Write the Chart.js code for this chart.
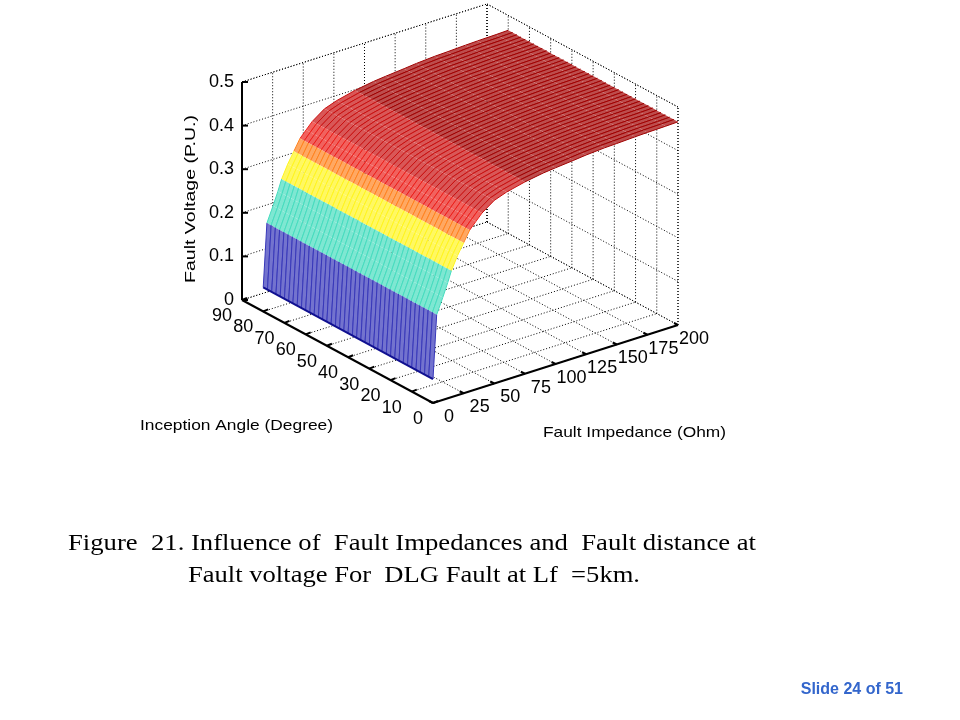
<!DOCTYPE html>
<html><head><meta charset="utf-8">
<script src="https://cdn.jsdelivr.net/npm/chart.js@4"></script>
<style>body{margin:0;background:#fff}canvas{display:block}</style>
</head><body><canvas id="c" width="960" height="720"></canvas>
<script>
// Data
const impedance = [0,3,8,12,15,20,25,30,35,40,50,60,75,90,100,115,125,140,150,165,175,190,200];
const voltage   = [0.055,0.2,0.235,0.265,0.29,0.32,0.345,0.37,0.385,0.40,0.42,0.43,0.44,0.447,0.45,0.454,0.457,0.46,0.461,0.463,0.464,0.465,0.466];
const angles = [];
for (let a = 0; a <= 80; a += 2) angles.push(a);
const zTicks = [0,25,50,75,100,125,150,175,200];
const aTicks = [0,10,20,30,40,50,60,70,80,90];
const vTicks = [0,0.1,0.2,0.3,0.4,0.5];

// projection (layout)
const O = [433, 403];
function P(z, a, v) {
  return [O[0] + z/200*245 - a/90*191, O[1] - z/200*78 - a/90*103 - v/0.5*218];
}
function band(v) {
  if (v < 0.205) return [55,55,185];
  if (v < 0.29) return [70,220,190];
  if (v < 0.335) return [255,245,30];
  if (v < 0.37) return [255,130,30];
  if (v < 0.40) return [235,30,25];
  if (v < 0.44) return [200,15,15];
  return [160,0,0];
}
function scaledText(ctx, txt, x, y, w) {
  const m = ctx.measureText(txt).width;
  ctx.save(); ctx.translate(x, y); ctx.scale(w/m, 1); ctx.fillText(txt, 0, 0); ctx.restore();
}
const plugin = {
  id: 'surf',
  afterDraw(chart) {
    const ctx = chart.ctx, sx = chart.scales.x, sy = chart.scales.y;
    const T = (z,a,v) => { const p = P(z,a,v); return [sx.getPixelForValue(p[0]), sy.getPixelForValue(p[1])]; };
    const line = (p, q) => { ctx.beginPath(); ctx.moveTo(p[0],p[1]); ctx.lineTo(q[0],q[1]); ctx.stroke(); };
    ctx.save();
    ctx.strokeStyle = '#000'; ctx.lineWidth = 1; ctx.setLineDash([1,2]);
    zTicks.forEach(z => line(T(z,0,0), T(z,90,0)));
    aTicks.forEach(a => line(T(0,a,0), T(200,a,0)));
    zTicks.forEach(z => line(T(z,90,0), T(z,90,0.5)));
    vTicks.forEach(v => line(T(0,90,v), T(200,90,v)));
    aTicks.forEach(a => line(T(200,a,0), T(200,a,0.5)));
    vTicks.forEach(v => line(T(200,0,v), T(200,90,v)));
    line(T(0,90,0.5), T(200,90,0.5));
    line(T(200,90,0), T(200,90,0.5));
    line(T(200,0,0.5), T(200,90,0.5));
    line(T(200,0,0), T(200,0,0.5));
    ctx.setLineDash([]);
    ctx.lineWidth = 2;
    line(T(0,90,0), T(0,90,0.5));
    line(T(0,0,0), T(200,0,0));
    line(T(0,0,0), T(0,90,0));
    vTicks.forEach(v => { const p = T(0,90,v); line(p, [p[0]+6, p[1]]); });
    aTicks.forEach(a => { const p = T(0,a,0); line(p, [p[0]+5, p[1]-2]); });
    zTicks.forEach(z => { const p = T(z,0,0); line(p, [p[0]-4, p[1]-2]); });
    // surface
    ctx.lineWidth = 1;
    for (let i = angles.length-2; i >= 0; i--) {
      for (let j = impedance.length-2; j >= 0; j--) {
        const a0 = angles[i], a1 = angles[i+1], z0 = impedance[j], z1 = impedance[j+1];
        const v0 = voltage[j], v1 = voltage[j+1];
        const pts = [T(z0,a0,v0), T(z1,a0,v1), T(z1,a1,v1), T(z0,a1,v0)];
        const c = band((v0+v1)/2);
        const lc = c.map(x => Math.round(x + (255-x)*0.3));
        ctx.fillStyle = `rgb(${lc[0]},${lc[1]},${lc[2]})`;
        ctx.beginPath(); pts.forEach((p,k)=>k?ctx.lineTo(p[0],p[1]):ctx.moveTo(p[0],p[1])); ctx.closePath();
        ctx.fill();
        ctx.strokeStyle = `rgb(${c[0]},${c[1]},${c[2]})`;
        line(pts[0], pts[1]); line(pts[3], pts[2]);
      }
    }
    ctx.strokeStyle = '#101090'; ctx.lineWidth = 2;
    line(T(0,0,voltage[0]), T(0,80,voltage[0]));
    // tick labels
    ctx.fillStyle = '#000'; ctx.font = '18px "Liberation Sans", Arial';
    ctx.textAlign = 'right'; ctx.textBaseline = 'middle';
    vTicks.forEach(v => { const p = T(0,90,v); ctx.fillText(String(v), p[0]-8, p[1]); });
    aTicks.forEach(a => { const p = T(0,a,0); ctx.fillText(String(a), p[0]-10, p[1]+16); });
    ctx.textAlign = 'center';
    zTicks.forEach(z => { const p = T(z,0,0); ctx.fillText(String(z), p[0]+16, p[1]+14); });
    ctx.font = '15px "Liberation Sans", Arial'; ctx.textAlign = 'left';
    scaledText(ctx, 'Inception Angle (Degree)', sx.getPixelForValue(140), sy.getPixelForValue(426), 193);
    scaledText(ctx, 'Fault Impedance (Ohm)', sx.getPixelForValue(543), sy.getPixelForValue(433), 183);
    ctx.save(); ctx.translate(sx.getPixelForValue(191), sy.getPixelForValue(283)); ctx.rotate(-Math.PI/2);
    scaledText(ctx, 'Fault Voltage (P.U.)', 0, 0, 168); ctx.restore();
    // caption
    ctx.textBaseline = 'alphabetic';
    ctx.font = '23px "Liberation Serif", "Times New Roman", serif';
    scaledText(ctx, 'Figure  21. Influence of  Fault Impedances and  Fault distance at', 68, 550, 688);
    scaledText(ctx, 'Fault voltage For  DLG Fault at Lf  =5km.', 188, 582, 452);
    ctx.fillStyle = '#3366cc'; ctx.font = 'bold 16px "Liberation Sans", Arial'; ctx.textAlign = 'right';
    ctx.fillText('Slide 24 of 51', 903, 694);
    ctx.restore();
  }
};
new Chart(document.getElementById('c'), {
  type: 'scatter',
  data: { datasets: [{ data: [] }] },
  options: {
    responsive: false, animation: false, devicePixelRatio: 1,
    layout: { padding: 0 },
    plugins: { legend: { display: false }, tooltip: { enabled: false } },
    scales: {
      x: { type: 'linear', min: 0, max: 960, display: false },
      y: { type: 'linear', min: 0, max: 720, reverse: true, display: false }
    }
  },
  plugins: [plugin]
});
</script></body></html>
